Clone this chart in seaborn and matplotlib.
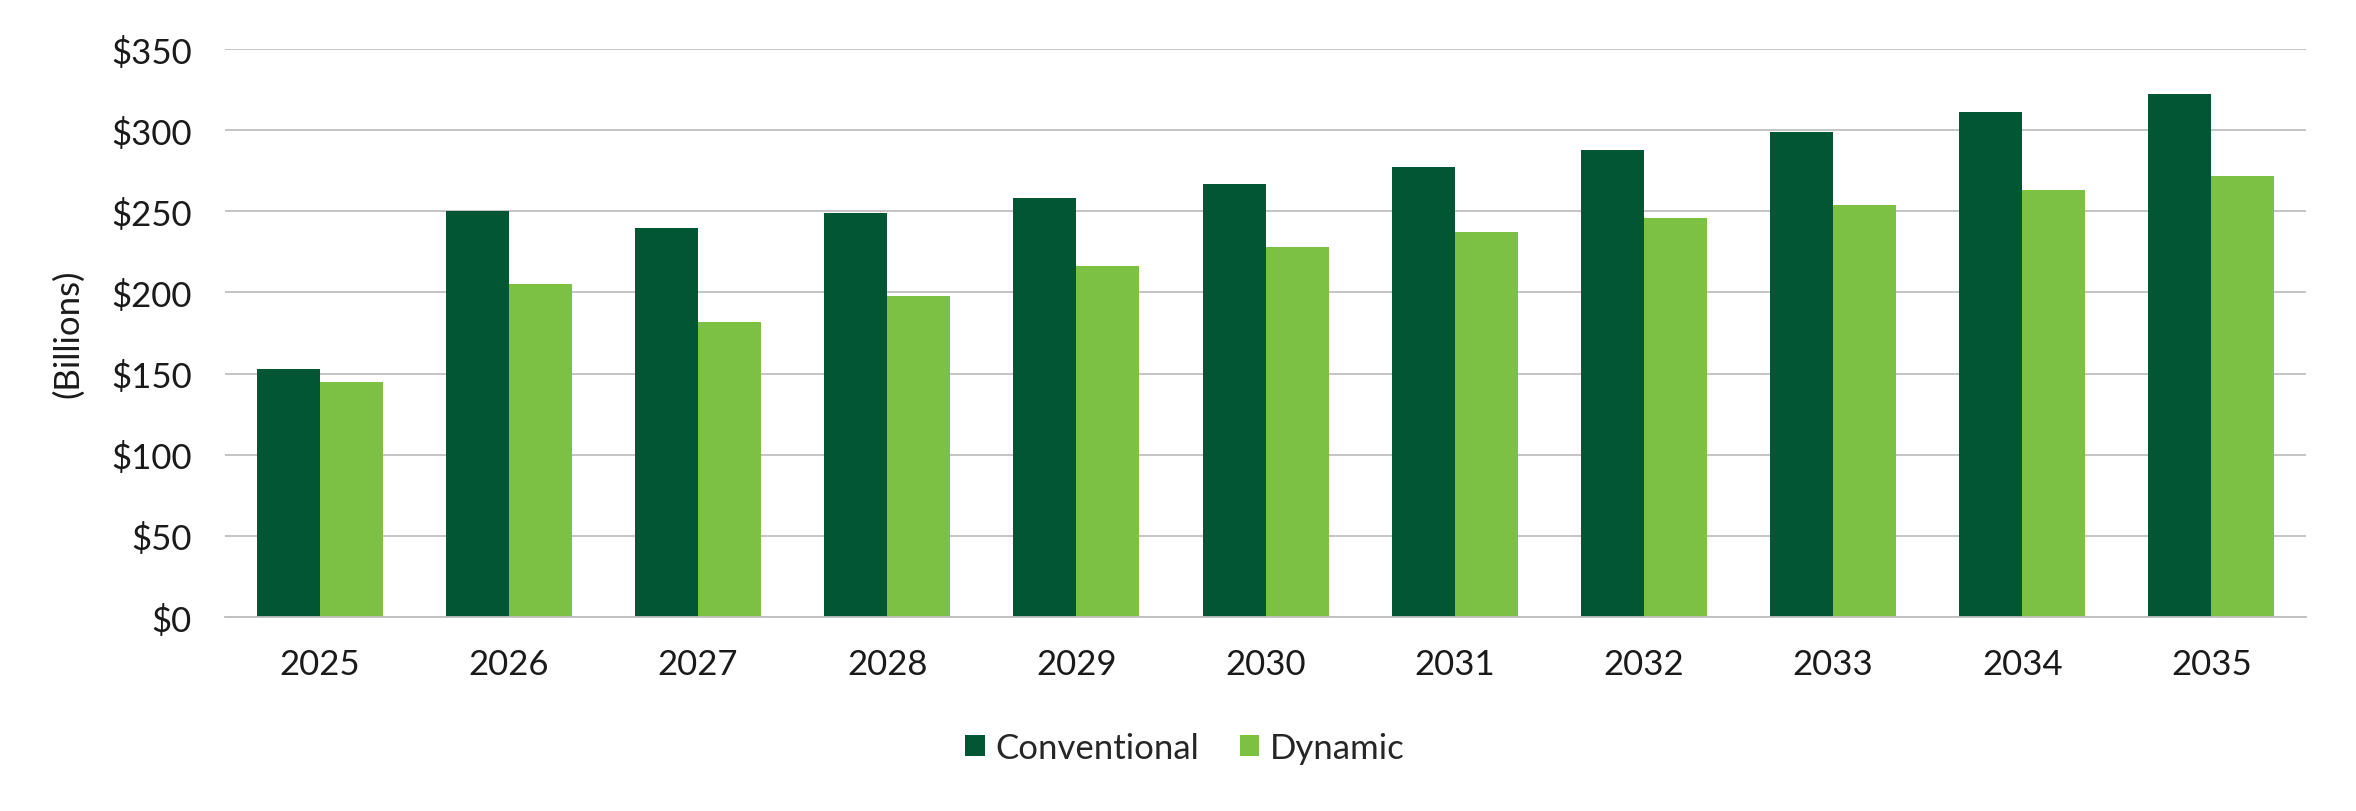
import matplotlib
matplotlib.use("Agg")
import matplotlib.pyplot as plt
import seaborn as sns
import pandas as pd

years = ["2025", "2026", "2027", "2028", "2029", "2030", "2031", "2032", "2033", "2034", "2035"]
conventional = [153, 250, 240, 249, 258, 267, 277, 288, 299, 311, 322]
dynamic = [145, 205, 182, 198, 216, 228, 237, 246, 254, 263, 272]
series_names = ["Conventional", "Dynamic"]
y_ticks = [0, 50, 100, 150, 200, 250, 300, 350]
y_ticklabels = ["$0", "$50", "$100", "$150", "$200", "$250", "$300", "$350"]
y_label = "(Billions)"

df = pd.DataFrame({
    "year": years * 2,
    "value": conventional + dynamic,
    "series": [series_names[0]] * len(years) + [series_names[1]] * len(years),
})

sns.set_theme(style="white")
plt.rcParams["font.family"] = ["Lato", "DejaVu Sans"]

fig = plt.figure(figsize=(23.56, 8.12), dpi=100)
ax = fig.add_axes([0.0955, 0.2389, 0.8833, 0.6995])

palette = {"Conventional": "#025634", "Dynamic": "#7CC144"}
sns.barplot(data=df, x="year", y="value", hue="series", palette=palette,
            width=0.666, saturation=1, linewidth=0, ax=ax, legend=True)

ax.set_ylim(0, 350)
ax.set_xlim(-0.5, len(years) - 0.5)
ax.set_yticks(y_ticks)
ax.set_yticklabels(y_ticklabels)
ax.yaxis.grid(True, color="#BFBFBF", linewidth=1.3)
ax.set_axisbelow(True)
for s in ["top", "right", "left"]:
    ax.spines[s].set_visible(False)
ax.spines["bottom"].set_color("#BFBFBF")
ax.spines["bottom"].set_linewidth(1.3)
ax.tick_params(axis="both", length=0, labelsize=25, colors="#1a1a1a")
ax.tick_params(axis="y", pad=24)
ax.tick_params(axis="x", pad=22)
ax.set_xlabel("")
ax.set_ylabel(y_label, fontsize=25, color="#1a1a1a", labelpad=19)

handles, labels = ax.get_legend_handles_labels()
ax.get_legend().remove()
fig.legend(handles, labels, loc="center", bbox_to_anchor=(0.503, 0.078),
           ncol=2, frameon=False, fontsize=25, handlelength=0.55,
           handleheight=0.55, handletextpad=0.3, columnspacing=1.2)

fig.savefig("out.png", dpi=100)
